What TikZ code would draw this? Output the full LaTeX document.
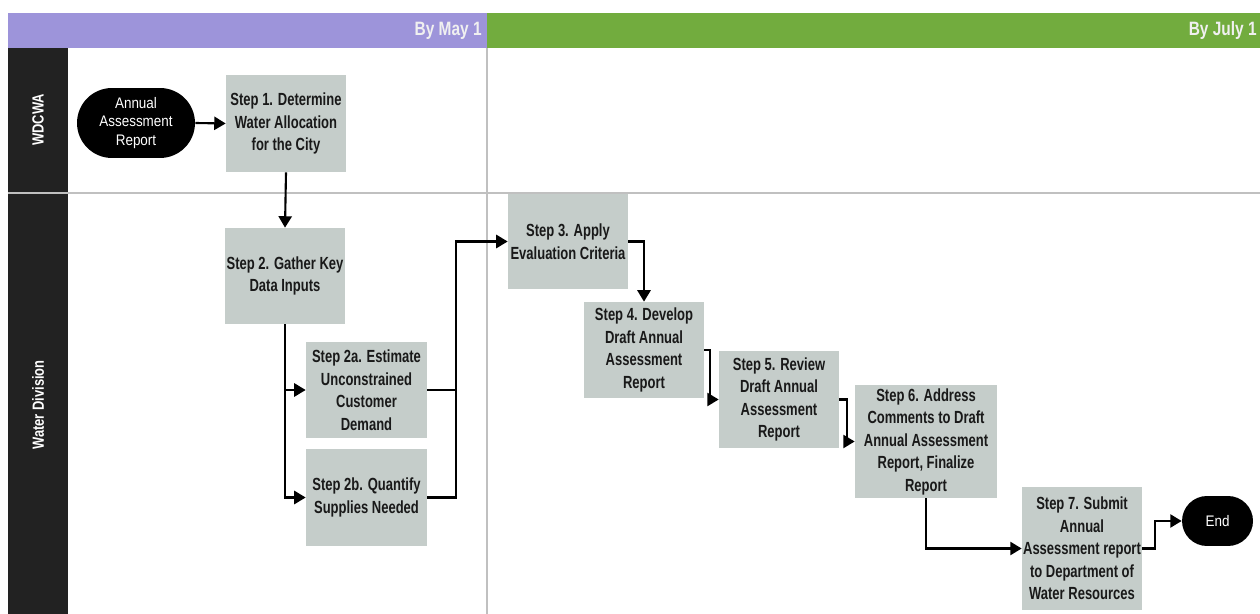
\documentclass[tikz,border=0pt]{standalone}
\usepackage{fontspec}
\usetikzlibrary{arrows.meta}
\newfontfamily\condbold{Liberation Sans}[FakeStretch=0.74]
\newfontfamily\condreg{Liberation Sans}[FakeStretch=0.88]
\newfontfamily\headfont{Liberation Sans}[FakeStretch=0.8]
\definecolor{hdrpurple}{RGB}{157,148,218}
\definecolor{hdrgreen}{RGB}{114,172,62}
\definecolor{boxgray}{RGB}{197,205,202}
\definecolor{lanedark}{RGB}{34,34,34}
\definecolor{gridgray}{RGB}{192,192,192}
\definecolor{txtdark}{RGB}{25,25,25}
\tikzset{
  stepbox/.style={fill=boxgray, draw=none, inner sep=0pt, align=center,
    text=txtdark, font=\condbold\bfseries\fontsize{10}{12.8}\selectfont},
  terminal/.style={fill=black, draw=none, inner sep=0pt, align=center,
    text=white, font=\condreg\fontsize{8.7}{10.4}\selectfont},
  arr/.style={draw=black, line width=1.2pt, -{Triangle[length=6.5pt,width=7.5pt]}},
  conn/.style={draw=black, line width=1.2pt},
  lanelabel/.style={text=white, rotate=90, font=\headfont\bfseries\fontsize{9.2}{11}\selectfont},
  hdrlabel/.style={text=white!94!black, anchor=east, inner sep=0pt, font=\headfont\bfseries\fontsize{11}{12}\selectfont},
  grid/.style={draw=gridgray, line width=0.8pt}
}
\begin{document}
\begin{tikzpicture}[x=0.02cm, y=-0.02cm]
\useasboundingbox (0,0) rectangle (1260,614);
\fill[white] (0,0) rectangle (1260,614);
% header bands
\fill[hdrpurple] (8,13) rectangle (487,48);
\fill[hdrgreen] (487,13) rectangle (1260,48);
\node[hdrlabel] (hmay) at (482,31) {By May 1};
\node[hdrlabel] (hjul) at (1257,31) {By July 1};
% lane label column
\fill[lanedark] (8,48) rectangle (68,614);
\node[lanelabel] (lw) at (38,120) {WDCWA};
\node[lanelabel] (ld) at (38,405) {Water Division};
% grid lines
\draw[grid] (8,193) -- (1260,193);
\draw[grid] (487,48) -- (487,614);
% nodes
\node[terminal, minimum width=2.36cm, minimum height=1.4cm, rounded corners=0.7cm] (start) at (136,123) {Annual\\Assessment\\Report};
\node[stepbox, minimum width=2.4cm, minimum height=1.94cm] (s1) at (286,123.5) {Step 1. Determine\\Water Allocation\\for the City};
\node[stepbox, minimum width=2.4cm, minimum height=1.92cm] (s2) at (285,276) {Step 2. Gather Key\\Data Inputs};
\node[stepbox, minimum width=2.42cm, minimum height=1.92cm] (s2a) at (366.5,390) {Step 2a. Estimate\\Unconstrained\\Customer\\Demand};
\node[stepbox, minimum width=2.42cm, minimum height=1.94cm] (s2b) at (366.5,497.5) {Step 2b. Quantify\\Supplies Needed};
\node[stepbox, minimum width=2.4cm, minimum height=1.9cm] (s3) at (568,241.5) {Step 3. Apply\\Evaluation Criteria};
\node[stepbox, minimum width=2.4cm, minimum height=1.92cm] (s4) at (644,350) {Step 4. Develop\\Draft Annual\\Assessment\\Report};
\node[stepbox, minimum width=2.4cm, minimum height=1.94cm] (s5) at (779,399.5) {Step 5. Review\\Draft Annual\\Assessment\\Report};
\node[stepbox, minimum width=2.84cm, minimum height=2.26cm] (s6) at (926,441.5) {Step 6. Address\\Comments to Draft\\Annual Assessment\\Report, Finalize\\Report};
\node[stepbox, minimum width=2.4cm, minimum height=2.46cm] (s7) at (1082,548.5) {Step 7. Submit\\Annual\\Assessment report\\to Department of\\Water Resources};
\node[terminal, minimum width=1.42cm, minimum height=1.0cm, rounded corners=0.5cm] (end) at (1217.5,521) {End};
\coordinate (bus) at (456,241.5);
% connectors
\draw[arr] (start.east) -- (s1.west);
\draw[arr] (s1.south) -- (s2.north);
\draw[arr] (s2.south) |- (s2a.west);
\draw[arr] (s2.south) |- (s2b.west);
\draw[conn] (s2b.east) -| (bus |- s2a.east);
\draw[arr] (s2a.east) -| (bus) -- (s3.west);
\draw[arr] (s3.east) -| (s4.north);
\draw[arr] (s4.east) -- ++(6,0) |- (s5.west);
\draw[arr] (s5.east) -- ++(8,0) |- (s6.west);
\draw[arr] (s6.south) |- (s7.west);
\draw[arr] (s7.east) -- ++(13,0) |- (end.west);
\end{tikzpicture}
\end{document}
